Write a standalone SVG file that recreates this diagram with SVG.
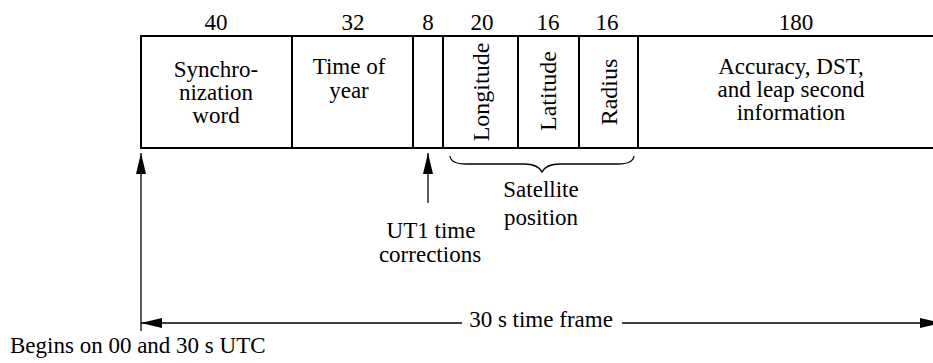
<svg xmlns="http://www.w3.org/2000/svg" width="933" height="363" viewBox="0 0 933 363">
<style>
.m{text-anchor:middle;}
.v{font-size:24px;}
.box{fill:none;stroke:#000;stroke-width:2;}
.ln{fill:none;stroke:#000;stroke-width:1.3;}
</style>
<defs>
<marker id="ah" viewBox="0 0 21 10" refX="21" refY="5" markerWidth="21" markerHeight="10" markerUnits="userSpaceOnUse" orient="auto">
<path d="M0,0 L21,5 L0,10 Z" fill="#000"/>
</marker>
</defs>
<g id="frame">
<path class="box" d="M933,36 H141 V148 H933 M292,36 V148 M413,36 V148 M443,36 V148 M518,36 V148 M579,36 V148 M638,36 V148"/>
</g>
<g font-family="'Liberation Serif', 'Times New Roman', serif" font-size="23" fill="#000">
<g id="bits">
<text class="m" x="216" y="30">40</text>
<text class="m" x="353" y="30">32</text>
<text class="m" x="428" y="30">8</text>
<text class="m" x="482" y="30">20</text>
<text class="m" x="548" y="30">16</text>
<text class="m" x="607" y="30">16</text>
<text class="m" x="796" y="30">180</text>
</g>
<g id="sync">
<text class="m" x="216" y="77">Synchro-</text>
<text class="m" x="216" y="100">nization</text>
<text class="m" x="216" y="123">word</text>
</g>
<g id="time">
<text class="m" x="349" y="74">Time of</text>
<text class="m" x="349" y="98">year</text>
</g>
<g id="longitude"><text class="m v" transform="translate(489,92) rotate(-90)">Longitude</text></g>
<g id="latitude"><text class="m v" transform="translate(556,91) rotate(-90)">Latitude</text></g>
<g id="radius"><text class="m v" transform="translate(617,92) rotate(-90)">Radius</text></g>
<g id="accuracy">
<text class="m" x="791" y="74">Accuracy, DST,</text>
<text class="m" x="791" y="97">and leap second</text>
<text class="m" x="791" y="120">information</text>
</g>
<g id="labels">
<text class="m" x="541" y="197">Satellite</text>
<text class="m" x="541" y="225">position</text>
<text class="m" x="431" y="238">UT1 time</text>
<text class="m" x="430" y="262">corrections</text>
<text class="m" x="541" y="327">30 s time frame</text>
<text x="10" y="353">Begins on 00 and 30 s UTC</text>
</g>
</g>
<g id="connectors">
<line class="ln" x1="141" y1="331" x2="141" y2="153" marker-end="url(#ah)"/>
<line class="ln" x1="428" y1="203" x2="428" y2="153" marker-end="url(#ah)"/>
<line class="ln" x1="462" y1="323" x2="141" y2="323" marker-end="url(#ah)"/>
<line class="ln" x1="622" y1="323" x2="941" y2="323" marker-end="url(#ah)"/>
<path class="ln" stroke-width="1.8" d="M450,156 Q451,164 466,164 L524,164 Q538,164 542,172 Q546,164 560,164 L618,164 Q633,164 634,156"/>
</g>
</svg>
